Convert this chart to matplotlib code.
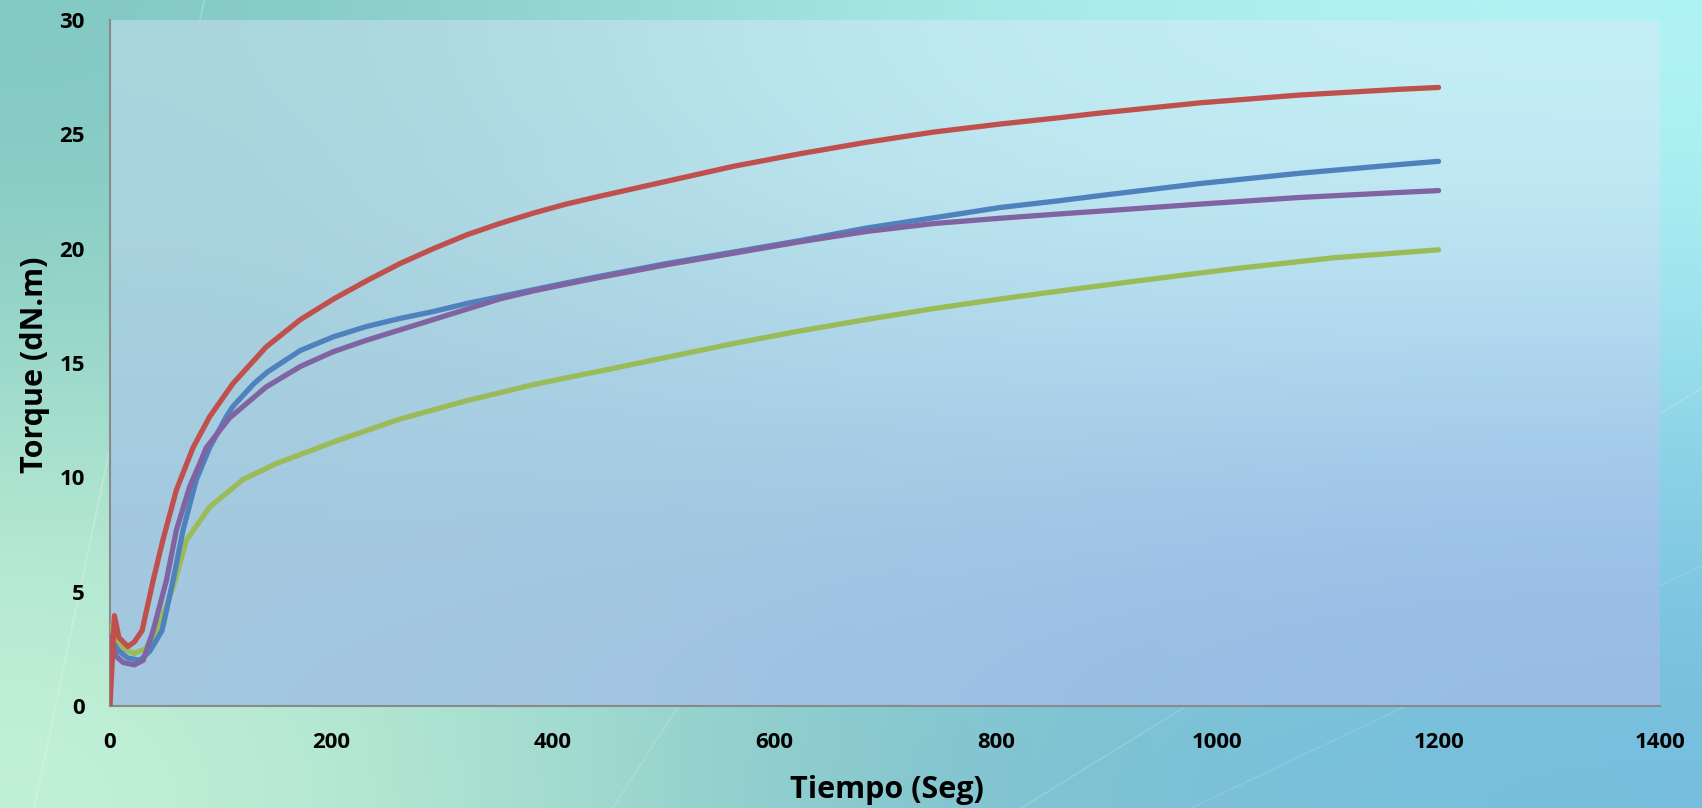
import numpy as np
import matplotlib
matplotlib.use("Agg")
import matplotlib.pyplot as plt
from matplotlib.colors import to_rgb

# ---- data ----
t_red = [0, 4, 8, 16, 22, 29, 39, 48, 60, 75, 90, 111, 141, 172, 202, 232, 262, 292, 322, 352, 382, 412,
         443, 503, 563, 623, 683, 744, 804, 858, 894, 985, 1075, 1165, 1200]
v_red = [0, 3.95, 3.0, 2.6, 2.8, 3.3, 5.5, 7.3, 9.45, 11.3, 12.65, 14.1, 15.7, 16.9, 17.8, 18.6, 19.35, 20.0,
         20.6, 21.1, 21.55, 21.95, 22.3, 22.95, 23.6, 24.15, 24.65, 25.1, 25.45, 25.73, 25.93, 26.38, 26.72,
         26.97, 27.05]

t_blue = [1, 8, 16, 27, 36, 47, 57, 66, 78, 90, 105, 111, 130, 142, 172, 202, 232, 262, 292, 322, 352, 382,
          412, 443, 503, 563, 623, 683, 744, 804, 858, 894, 985, 1075, 1165, 1200]
v_blue = [2.9, 2.4, 2.1, 2.0, 2.4, 3.3, 5.5, 7.7, 9.9, 11.3, 12.65, 13.1, 14.1, 14.6, 15.55, 16.15, 16.6,
          16.95, 17.25, 17.6, 17.9, 18.2, 18.5, 18.8, 19.35, 19.85, 20.35, 20.9, 21.35, 21.8, 22.1, 22.32,
          22.85, 23.3, 23.68, 23.82]

t_purple = [1, 5, 12, 22, 30, 39, 51, 60, 72, 81, 87, 108, 141, 172, 202, 232, 262, 292, 322, 352, 382, 412,
            443, 503, 563, 623, 683, 744, 804, 858, 894, 985, 1075, 1165, 1200]
v_purple = [3.0, 2.2, 1.9, 1.8, 2.0, 3.3, 5.5, 7.7, 9.6, 10.6, 11.3, 12.6, 13.95, 14.85, 15.5, 16.0, 16.45,
            16.9, 17.35, 17.8, 18.15, 18.45, 18.75, 19.3, 19.8, 20.3, 20.75, 21.1, 21.33, 21.52, 21.64, 21.95,
            22.24, 22.46, 22.54]

t_green = [1, 5, 12, 22, 32, 42, 52, 59, 69, 90, 120, 150, 172, 202, 232, 262, 292, 322, 352, 382, 412, 443,
           503, 563, 623, 683, 744, 804, 858, 933, 1015, 1105, 1200]
v_green = [3.5, 2.9, 2.5, 2.3, 2.5, 3.3, 4.5, 5.5, 7.25, 8.7, 9.9, 10.6, 11.0, 11.55, 12.05, 12.55, 12.95,
           13.35, 13.7, 14.05, 14.35, 14.65, 15.25, 15.85, 16.4, 16.9, 17.38, 17.8, 18.15, 18.62, 19.12, 19.6, 19.95]

x_ticks = [0, 200, 400, 600, 800, 1000, 1200, 1400]
y_ticks = [0, 5, 10, 15, 20, 25, 30]
x_label = "Tiempo (Seg)"
y_label = "Torque (dN.m)"

# ---- figure ----
W, H, DPI = 1702, 808, 100
fig = plt.figure(figsize=(W / DPI, H / DPI), dpi=DPI)

def grad(colors_top, colors_bot):
    top = np.array([to_rgb(c) for c in colors_top])
    bot = np.array([to_rgb(c) for c in colors_bot])
    return np.stack([top, bot])

# figure background gradient
bg = fig.add_axes([0, 0, 1, 1], zorder=-10)
bg.imshow(grad(["#7fc6c2", "#a6e8e2", "#b2f6f6"], ["#c6f4d6", "#80c2c8", "#74bcde"]),
          aspect="auto", interpolation="bicubic", extent=[0, 1, 0, 1], origin="upper")
# faint diagonal streaks
for (x0, y0), (x1, y1), a in [((0.02, 0.0), (0.12, 1.0), 0.22),
                              ((0.36, 0.0), (0.62, 0.85), 0.14),
                              ((0.60, 0.0), (1.0, 0.52), 0.16),
                              ((0.70, 0.0), (1.0, 0.30), 0.12)]:
    bg.plot([x0, x1], [y0, y1], color="white", alpha=a, lw=1.2)
bg.set_xlim(0, 1); bg.set_ylim(0, 1)
bg.axis("off")

L, R, B, T = 110 / W, 1660 / W, 1 - 706 / H, 1 - 20 / H
ax = fig.add_axes([L, B, R - L, T - B])
ax.set_facecolor("none")
ax.imshow(grad(["#a9d5dc", "#c2ecf2", "#c6f0f6"], ["#a3c7e0", "#9cc0e2", "#96bae6"]),
          aspect="auto", interpolation="bicubic", extent=[0, 1400, 0, 30], origin="upper", zorder=0)

c_red, c_blue, c_purple, c_green = "#C0504D", "#4F81BD", "#8064A2", "#9BBB59"
lw = 3.8
for t, v, c in [(t_green, v_green, c_green), (t_blue, v_blue, c_blue),
                (t_purple, v_purple, c_purple), (t_red, v_red, c_red)]:
    ax.plot(t, v, color=c, lw=lw, solid_capstyle="round", solid_joinstyle="round", zorder=3)

ax.set_xlim(0, 1400)
ax.set_ylim(0, 30)
ax.set_xticks(x_ticks)
ax.set_yticks(y_ticks)

font = "Open Sans"
for lab in ax.get_xticklabels() + ax.get_yticklabels():
    lab.set_fontfamily(font)
    lab.set_fontweight("bold")
    lab.set_fontsize(16)
ax.tick_params(axis="both", length=0)
ax.tick_params(axis="x", pad=19)
ax.tick_params(axis="y", pad=18)

for s in ["top", "right"]:
    ax.spines[s].set_visible(False)
for s in ["left", "bottom"]:
    ax.spines[s].set_color("#8a8a8a")
    ax.spines[s].set_linewidth(1.5)

fig.text(887 / W, 1 - 790 / H, x_label, ha="center", va="center",
         fontfamily=font, fontweight="bold", fontsize=22)
fig.text(35 / W, 1 - 365 / H, y_label, ha="center", va="center", rotation=90,
         fontfamily=font, fontweight="bold", fontsize=22)

fig.savefig("out.png", dpi=DPI)
